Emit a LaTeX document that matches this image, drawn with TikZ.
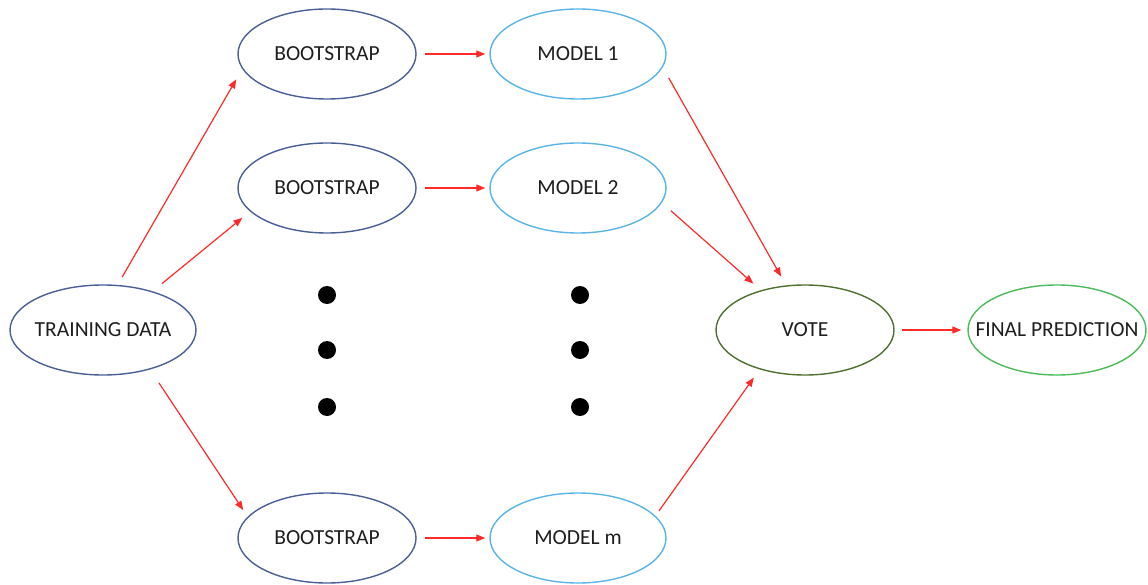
\documentclass[tikz,border=0pt]{standalone}
\usepackage{fontspec}
\setmainfont{Carlito}
\usetikzlibrary{shapes.geometric,arrows.meta}
\definecolor{bootc}{HTML}{4A5F95}
\definecolor{modc}{HTML}{5AB4E8}
\definecolor{votec}{HTML}{4F7030}
\definecolor{finc}{HTML}{4CBB5A}
\definecolor{arrc}{HTML}{FF2A2A}
\definecolor{txtc}{HTML}{1E1E1E}
\begin{document}
\begin{tikzpicture}[x=1pt,y=-1pt,
  ell/.style={ellipse,draw,line width=1.4pt,minimum width=178pt,minimum height=90pt,inner sep=0pt,
    font=\fontsize{21.5}{24}\selectfont,text=txtc},
  bootell/.style={ell,draw=bootc},
  modell/.style={ell,draw=modc},
  arr/.style={draw=arrc,line width=1.2pt,-{Triangle[length=9pt,width=7pt]}},
  dot/.style={circle,fill=black,minimum size=18pt,inner sep=0pt}]
\useasboundingbox (0,0) rectangle (1148,585);
\node[bootell,minimum width=186pt,inner xsep=-30pt] (td) at (103,330) {TRAINING DATA};
\node[bootell] (b1) at (327,54) {BOOTSTRAP};
\node[bootell] (b2) at (327,188) {BOOTSTRAP};
\node[bootell] (b3) at (327,538) {BOOTSTRAP};
\node[modell,minimum width=176pt] (m1) at (578,54) {MODEL 1};
\node[modell,minimum width=176pt] (m2) at (578,188) {MODEL 2};
\node[modell,minimum width=176pt] (mm) at (578,538) {MODEL m};
\node[ell,draw=votec] (vote) at (805,330) {VOTE};
\node[ell,draw=finc,inner xsep=-40pt] (fin) at (1057,330) {FINAL PREDICTION};
\node[dot] (d1) at (327,295) {};
\node[dot] (d2) at (327,350) {};
\node[dot] (d3) at (327,407) {};
\node[dot] (d4) at (580,295) {};
\node[dot] (d5) at (580,350) {};
\node[dot] (d6) at (580,407) {};
\draw[arr,shorten <=9pt,shorten >=12pt] (td.72) -- (b1.190);
\draw[arr,shorten <=12pt,shorten >=10pt] (td.38) -- (b2.197);
\draw[arr,shorten <=16pt,shorten >=8pt] (td.-40) -- (b3.165);
\draw[arr,shorten <=8pt,shorten >=4pt] (b1.east) -- (m1.west);
\draw[arr,shorten <=8pt,shorten >=4pt] (b2.east) -- (m2.west);
\draw[arr,shorten <=8pt,shorten >=4pt] (b3.east) -- (mm.west);
\draw[arr,shorten <=12pt,shorten >=10pt] (m1.-9) -- (vote.113);
\draw[arr,shorten <=12pt,shorten >=10pt] (m2.-10) -- (vote.138);
\draw[arr,shorten <=6pt,shorten >=10pt] (mm.16) -- (vote.221);
\draw[arr,shorten <=7pt,shorten >=6pt] (vote.east) -- (fin.west);
\end{tikzpicture}
\end{document}
